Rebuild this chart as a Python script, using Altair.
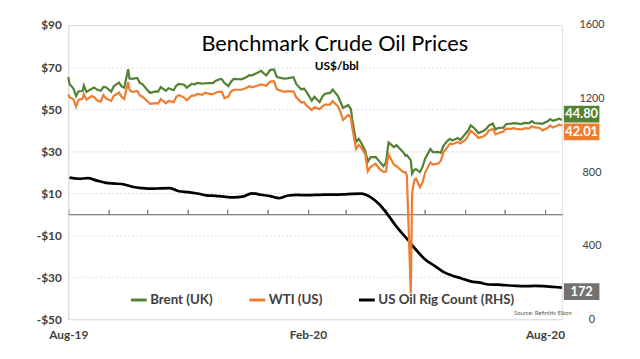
import altair as alt
import pandas as pd

# ---------------- data ----------------
price_dates = [
    "2019-08-01", "2019-08-02", "2019-08-05", "2019-08-07", "2019-08-09", "2019-08-12", "2019-08-13",
    "2019-08-15", "2019-08-19", "2019-08-21", "2019-08-23", "2019-08-26", "2019-08-28", "2019-08-30",
    "2019-09-03", "2019-09-05", "2019-09-09", "2019-09-11", "2019-09-13", "2019-09-16", "2019-09-17",
    "2019-09-19", "2019-09-23", "2019-09-25", "2019-09-27", "2019-10-01", "2019-10-03", "2019-10-07",
    "2019-10-09", "2019-10-11", "2019-10-15", "2019-10-17", "2019-10-21", "2019-10-23", "2019-10-25",
    "2019-10-29", "2019-10-31", "2019-11-04", "2019-11-06", "2019-11-08", "2019-11-12", "2019-11-14",
    "2019-11-18", "2019-11-20", "2019-11-22", "2019-11-26", "2019-11-27", "2019-11-29", "2019-12-02",
    "2019-12-04", "2019-12-06", "2019-12-10", "2019-12-12", "2019-12-16", "2019-12-18", "2019-12-20",
    "2019-12-24", "2019-12-27", "2019-12-31", "2020-01-03", "2020-01-06", "2020-01-08", "2020-01-10",
    "2020-01-14", "2020-01-16", "2020-01-21", "2020-01-23", "2020-01-27", "2020-01-29", "2020-01-31",
    "2020-02-04", "2020-02-06", "2020-02-10", "2020-02-12", "2020-02-14", "2020-02-18", "2020-02-20",
    "2020-02-24", "2020-02-26", "2020-02-28", "2020-03-03", "2020-03-05", "2020-03-06", "2020-03-09",
    "2020-03-11", "2020-03-13", "2020-03-16", "2020-03-18", "2020-03-20", "2020-03-24", "2020-03-27",
    "2020-03-30", "2020-04-01", "2020-04-02", "2020-04-03", "2020-04-07", "2020-04-09", "2020-04-14",
    "2020-04-16", "2020-04-17", "2020-04-20", "2020-04-21", "2020-04-22", "2020-04-23", "2020-04-24",
    "2020-04-27", "2020-04-29", "2020-05-01", "2020-05-05", "2020-05-07", "2020-05-11", "2020-05-13",
    "2020-05-15", "2020-05-18", "2020-05-20", "2020-05-22", "2020-05-26", "2020-05-28", "2020-06-01",
    "2020-06-03", "2020-06-05", "2020-06-08", "2020-06-11", "2020-06-15", "2020-06-17", "2020-06-19",
    "2020-06-22", "2020-06-24", "2020-06-26", "2020-06-30", "2020-07-02", "2020-07-06", "2020-07-08",
    "2020-07-10", "2020-07-14", "2020-07-16", "2020-07-20", "2020-07-22", "2020-07-24", "2020-07-28",
    "2020-07-30", "2020-08-03", "2020-08-05", "2020-08-07", "2020-08-10", "2020-08-12", "2020-08-14",
]
brent = [
    65.2, 61.9, 59.8, 56.2, 58.5, 58.6, 61.3,
    58.2, 59.7, 60.3, 59.3, 58.7, 60.5, 60.4,
    58.3, 60.9, 62.6, 60.8, 60.2, 69.0, 64.6,
    64.4, 64.8, 62.4, 61.9, 58.9, 57.7, 58.4,
    58.3, 60.5, 58.7, 59.9, 59.0, 61.2, 62.0,
    61.6, 60.2, 62.1, 61.7, 62.5, 62.1, 62.3,
    62.4, 62.4, 63.4, 64.3, 64.1, 62.4, 60.9,
    63.0, 64.4, 64.3, 64.2, 65.3, 66.2, 66.1,
    67.2, 68.2, 66.0, 68.6, 68.9, 65.4, 65.0,
    64.5, 64.6, 65.2, 62.0, 59.3, 59.8, 58.2,
    54.0, 55.9, 53.3, 55.8, 57.3, 57.7, 59.3,
    56.3, 53.4, 50.5, 51.9, 50.0, 45.3, 34.4,
    35.8, 33.9, 30.1, 24.9, 27.0, 27.2, 25.0,
    22.8, 24.7, 29.9, 34.1, 31.9, 32.8, 29.6,
    27.8, 28.1, 25.6, 19.3, 20.4, 21.3, 21.4,
    20.0, 22.5, 26.4, 31.0, 29.5, 29.6, 29.2,
    32.5, 34.8, 35.8, 35.1, 36.2, 35.3, 38.3,
    39.8, 42.3, 40.8, 38.6, 39.7, 40.7, 42.2,
    43.1, 40.3, 41.0, 41.2, 42.8, 43.1, 43.3,
    43.2, 42.9, 43.4, 43.3, 44.3, 43.3, 43.2,
    43.0, 44.2, 45.2, 44.4, 45.0, 45.4, 44.80,
]
wti = [
    57.0, 55.7, 54.7, 51.1, 54.5, 54.9, 57.1,
    54.5, 56.2, 55.7, 54.2, 53.6, 56.7, 55.1,
    53.9, 56.3, 57.9, 55.8, 54.9, 62.9, 59.3,
    58.1, 58.6, 56.5, 55.9, 53.6, 52.5, 52.8,
    52.6, 54.7, 52.8, 53.9, 53.3, 55.9, 56.7,
    55.5, 54.2, 56.5, 56.4, 57.2, 56.8, 57.8,
    57.1, 57.1, 57.8, 58.4, 58.1, 55.2, 56.0,
    58.4, 59.2, 59.2, 59.2, 60.2, 60.9, 60.4,
    61.1, 61.7, 61.1, 63.1, 63.3, 59.6, 59.0,
    58.2, 58.5, 58.3, 55.6, 53.1, 53.3, 51.6,
    49.6, 50.9, 50.0, 51.2, 52.1, 52.1, 53.8,
    51.4, 48.7, 44.8, 47.2, 46.0, 41.3, 31.1,
    32.9, 31.7, 28.7, 20.4, 22.4, 24.0, 21.5,
    20.1, 20.3, 25.3, 28.3, 23.6, 22.8, 20.1,
    19.9, 18.3, -37.6, 10.0, 13.8, 16.5, 16.9,
    12.8, 15.1, 19.8, 24.6, 23.6, 24.1, 25.3,
    29.4, 31.8, 33.5, 33.3, 34.4, 33.7, 35.4,
    37.3, 39.6, 38.2, 36.3, 37.1, 38.0, 39.8,
    40.5, 38.0, 38.5, 39.3, 40.7, 40.6, 40.9,
    40.6, 40.3, 40.8, 40.8, 41.9, 41.3, 41.0,
    39.9, 41.0, 42.2, 41.2, 41.9, 42.7, 42.01,
]
rig_dates = [
    "2019-08-02", "2019-08-09", "2019-08-16", "2019-08-23", "2019-08-30", "2019-09-06", "2019-09-13",
    "2019-09-20", "2019-09-27", "2019-10-04", "2019-10-11", "2019-10-18", "2019-10-25", "2019-11-01",
    "2019-11-08", "2019-11-15", "2019-11-22", "2019-11-27", "2019-12-06", "2019-12-13", "2019-12-20",
    "2019-12-27", "2020-01-03", "2020-01-10", "2020-01-17", "2020-01-24", "2020-01-31", "2020-02-07",
    "2020-02-14", "2020-02-21", "2020-02-28", "2020-03-06", "2020-03-13", "2020-03-20", "2020-03-27",
    "2020-04-03", "2020-04-09", "2020-04-17", "2020-04-24", "2020-05-01", "2020-05-08", "2020-05-15",
    "2020-05-22", "2020-05-29", "2020-06-05", "2020-06-12", "2020-06-19", "2020-06-26", "2020-07-02",
    "2020-07-10", "2020-07-17", "2020-07-24", "2020-07-31", "2020-08-07", "2020-08-14",
]
rig = [
    770, 764, 767, 754, 742, 738, 733,
    719, 713, 710, 712, 713, 696, 691,
    684, 674, 671, 668, 663, 667, 685,
    677, 670, 659, 673, 676, 675, 676,
    678, 678, 679, 682, 683, 664, 624,
    562, 504, 438, 378, 325, 292, 258,
    237, 222, 206, 199, 189, 188, 185,
    181, 180, 181, 180, 176, 172,
]

series_names = ["Brent (UK)", "WTI (US)", "US Oil Rig Count (RHS)"]
title_text = "Benchmark Crude Oil Prices"
subtitle_text = "US$/bbl"
source_text = "Source: Refinitiv Eikon"
left_ticks = [-50, -30, -10, 10, 30, 50, 70, 90]
right_ticks = [0, 400, 800, 1200, 1600]
label_months = [(2019, 8), (2020, 2), (2020, 8)]
tick_months = [(2019, m) for m in range(8, 13)] + [(2020, m) for m in range(1, 9)]

# ---------------- styling ----------------
GREEN = "#548235"
ORANGE = "#ED7D31"
BLACK = "#000000"
BOX_GRAY = "#767171"
TEXT = "#404040"
GRID = "#D9D9D9"
FONT = "Lato"

W, H = 500, 298
ZERO_OFFSET = -(90.0 / 140.0) * H

def local(s):
    return s + "T00:00:00"

prices = pd.DataFrame({
    "date": [local(d) for d in price_dates] * 2,
    "value": brent + wti,
    "series": [series_names[0]] * len(brent) + [series_names[1]] * len(wti),
})
rigdf = pd.DataFrame({
    "date": [local(d) for d in rig_dates],
    "value": rig,
    "series": series_names[2],
})

x_scale = alt.Scale(domain=[alt.DateTime(year=2019, month=8, date=1),
                            alt.DateTime(year=2020, month=8, date=14)], nice=False)
price_scale = alt.Scale(domain=[-50, 90], nice=False, zero=False)
rig_scale = alt.Scale(domain=[0, 1600], nice=False)
color_scale = alt.Scale(domain=series_names, range=[GREEN, ORANGE, BLACK])

legend = alt.Legend(
    orient="none", legendX=62, legendY=269, direction="horizontal", title=None,
    labelFont=FONT, labelFontSize=13.5, labelFontWeight="bold", labelColor=TEXT,
    symbolType="stroke", symbolStrokeWidth=3, symbolSize=256, labelOffset=2,
    columnPadding=30, padding=0,
)

bottom_axis = alt.Axis(
    values=[alt.DateTime(year=y, month=m, date=1) for y, m in label_months],
    format="%b-%y", title=None, domain=False, ticks=False, grid=False,
    labelFont=FONT, labelFontSize=12, labelFontWeight="bold", labelColor=TEXT,
    labelPadding=10, labelFlush=False, labelOverlap=False,
)
zero_axis = alt.Axis(
    orient="top", offset=ZERO_OFFSET, labels=False, title=None, grid=False,
    values=[alt.DateTime(year=y, month=m, date=1) for y, m in tick_months],
    domainColor="#7F7F7F", tickColor="#7F7F7F", tickSize=5, domainWidth=1, tickWidth=1,
)
left_axis = alt.Axis(
    values=left_ticks, title=None, orient="left",
    labelExpr="datum.value < 0 ? '-$' + abs(datum.value) : '$' + datum.value",
    labelFont=FONT, labelFontSize=12, labelFontWeight="bold", labelColor=TEXT,
    labelPadding=7, ticks=False, domain=True, domainColor=GRID,
    grid=True, gridColor=GRID, gridDash=[2, 2], gridWidth=1,
)
right_axis = alt.Axis(
    values=right_ticks, title=None, orient="right", format="d",
    labelFont=FONT, labelFontSize=11, labelColor=TEXT, labelPadding=30,
    labelAlign="center", ticks=False, domain=False, grid=False,
)

rig_line = alt.Chart(rigdf).mark_line(strokeWidth=2.75, interpolate="monotone").encode(
    x=alt.X("date:T", scale=x_scale, axis=None),
    y=alt.Y("value:Q", scale=rig_scale, axis=right_axis),
    color=alt.Color("series:N", scale=color_scale, legend=legend),
)

price_lines = alt.Chart(prices).mark_line(strokeWidth=2.25).encode(
    x=alt.X("date:T", scale=x_scale, axis=bottom_axis),
    y=alt.Y("value:Q", scale=price_scale, axis=left_axis),
    color=alt.Color("series:N", scale=color_scale, legend=legend),
)

BOX_PATH = "M-1,-0.472H1V0.472H-1Z"
BOX_SIZE = 36 * 36

def end_label(value, date, fill, y_scale, y_off, fmt, x_axis=None):
    d = pd.DataFrame({"date": [local(date)], "value": [value]})
    base = alt.Chart(d).encode(
        x=alt.X("date:T", scale=x_scale, axis=x_axis),
        y=alt.Y("value:Q", scale=y_scale, axis=None),
    )
    box = base.mark_point(shape=BOX_PATH, size=BOX_SIZE, filled=True, fill=fill,
                          opacity=1, strokeWidth=0, xOffset=20, yOffset=y_off)
    txt = base.mark_text(color="white", font=FONT, fontSize=13, fontWeight="bold",
                         align="center", baseline="middle", dx=20, dy=y_off).encode(
        text=alt.Text("value:Q", format=fmt))
    return [box, txt]

labels = (
    end_label(brent[-1], price_dates[-1], GREEN, price_scale, -6, ".2f", x_axis=zero_axis)
    + end_label(wti[-1], price_dates[-1], ORANGE, price_scale, 6, ".2f")
    + end_label(rig[-1], rig_dates[-1], BOX_GRAY, rig_scale, 4, "d")
)

one = pd.DataFrame({"t": [title_text], "s": [subtitle_text], "src": [source_text]})
title = alt.Chart(one).mark_text(font=FONT, fontSize=22, color="#000000", align="center",
                                 baseline="alphabetic").encode(
    text="t:N", x=alt.value(270), y=alt.value(26))
subtitle = alt.Chart(one).mark_text(font=FONT, fontSize=12, fontWeight="bold", color="#000000",
                                    align="center", baseline="alphabetic").encode(
    text="s:N", x=alt.value(272), y=alt.value(46))
source = alt.Chart(one).mark_text(font=FONT, fontSize=6, color="#595959", align="right",
                                  baseline="alphabetic").encode(
    text="src:N", x=alt.value(510), y=alt.value(294))

chart = alt.layer(
    rig_line, price_lines, *labels, title, subtitle, source
).resolve_scale(y="independent").resolve_axis(x="independent").properties(
    width=W, height=H,
    autosize=alt.AutoSizeParams(type="none"),
    padding={"left": 61, "top": 15, "right": 71, "bottom": 38},
    background="white",
).configure_view(stroke=None).configure(font=FONT)

chart.save("out.html", embed_options={"renderer": "svg", "actions": False})
